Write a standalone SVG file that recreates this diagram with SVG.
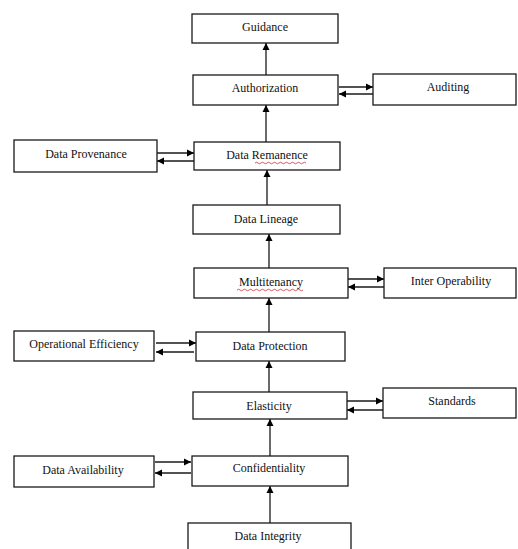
<svg xmlns="http://www.w3.org/2000/svg" width="518" height="549" viewBox="0 0 518 549">
<defs>
<marker id="ah" markerWidth="8" markerHeight="8" refX="7" refY="4" orient="auto" markerUnits="userSpaceOnUse">
<path d="M0,0.5 L7,4 L0,7.5 Z" fill="#000"/>
</marker>
<style>
.box{fill:#fff;stroke:#1a1a1a;stroke-width:1.3}
.lbl{font-family:"Liberation Serif","Times New Roman",serif;font-size:12px;fill:#111;text-anchor:middle}
.c{stroke:#1a1a1a;stroke-width:1.3;fill:none;marker-end:url(#ah)}
.sq{stroke:#d03030;stroke-width:0.8;fill:none}
</style>
</defs>
<rect width="518" height="549" fill="#fff"/>
<g id="connectors">
<line class="c" x1="266" y1="75" x2="266" y2="43"/>
<line class="c" x1="266" y1="142" x2="266" y2="105"/>
<line class="c" x1="267" y1="205" x2="267" y2="170"/>
<line class="c" x1="269" y1="268" x2="269" y2="234"/>
<line class="c" x1="269" y1="332" x2="269" y2="298"/>
<line class="c" x1="269" y1="392" x2="269" y2="361"/>
<line class="c" x1="270" y1="456" x2="270" y2="419"/>
<line class="c" x1="270" y1="523" x2="270" y2="486"/>
<line class="c" x1="339" y1="87" x2="373" y2="87"/>
<line class="c" x1="373" y1="94" x2="339" y2="94"/>
<line class="c" x1="157" y1="153" x2="194" y2="153"/>
<line class="c" x1="194" y1="161" x2="157" y2="161"/>
<line class="c" x1="348" y1="279" x2="384" y2="279"/>
<line class="c" x1="384" y1="287" x2="348" y2="287"/>
<line class="c" x1="156" y1="343" x2="196" y2="343"/>
<line class="c" x1="194" y1="352" x2="156" y2="352"/>
<line class="c" x1="347" y1="401" x2="383" y2="401"/>
<line class="c" x1="383" y1="410" x2="347" y2="410"/>
<line class="c" x1="155" y1="462" x2="191" y2="462"/>
<line class="c" x1="191" y1="473" x2="155" y2="473"/>
</g>
<g id="guidance"><rect class="box" x="192" y="14" width="146" height="29"/><text class="lbl" x="265" y="31">Guidance</text></g>
<g id="authorization"><rect class="box" x="193" y="75" width="145" height="30"/><text class="lbl" x="265" y="92">Authorization</text></g>
<g id="auditing"><rect class="box" x="373" y="74" width="143" height="31"/><text class="lbl" x="448" y="91">Auditing</text></g>
<g id="data-provenance"><rect class="box" x="14" y="140" width="143" height="32"/><text class="lbl" x="86" y="158">Data Provenance</text></g>
<g id="data-remanence"><rect class="box" x="194" y="142" width="146" height="28"/><text class="lbl" x="267" y="159">Data Remanence</text><path class="sq" d="M255,163 q1.5,-1.5 3,0 t3,0 t3,0 t3,0 t3,0 t3,0 t3,0 t3,0 t3,0 t3,0 t3,0 t3,0 t3,0 t3,0 t3,0 t3,0 t3,0"/></g>
<g id="data-lineage"><rect class="box" x="193" y="205" width="147" height="29"/><text class="lbl" x="266" y="223">Data Lineage</text></g>
<g id="multitenancy"><rect class="box" x="194" y="268" width="154" height="30"/><text class="lbl" x="271" y="286">Multitenancy</text><path class="sq" d="M237,290 q1.5,-1.5 3,0 t3,0 t3,0 t3,0 t3,0 t3,0 t3,0 t3,0 t3,0 t3,0 t3,0 t3,0 t3,0 t3,0 t3,0 t3,0 t3,0 t3,0 t3,0 t3,0 t3,0 t3,0"/></g>
<g id="inter-operability"><rect class="box" x="384" y="268" width="132" height="30"/><text class="lbl" x="451" y="285">Inter Operability</text></g>
<g id="operational-efficiency"><rect class="box" x="14" y="331" width="140" height="30"/><text class="lbl" x="84" y="348">Operational Efficiency</text></g>
<g id="data-protection"><rect class="box" x="196" y="332" width="149" height="29"/><text class="lbl" x="270" y="349.5">Data Protection</text></g>
<g id="elasticity"><rect class="box" x="193" y="392" width="154" height="27"/><text class="lbl" x="269" y="409.5">Elasticity</text></g>
<g id="standards"><rect class="box" x="383" y="388" width="133" height="30"/><text class="lbl" x="452" y="404.5">Standards</text></g>
<g id="data-availability"><rect class="box" x="14" y="456" width="140" height="31"/><text class="lbl" x="83" y="474">Data Availability</text></g>
<g id="confidentiality"><rect class="box" x="192" y="456" width="156" height="30"/><text class="lbl" x="269" y="472">Confidentiality</text></g>
<g id="data-integrity"><rect class="box" x="188" y="523" width="163" height="30"/><text class="lbl" x="268" y="540">Data Integrity</text></g>
</svg>
